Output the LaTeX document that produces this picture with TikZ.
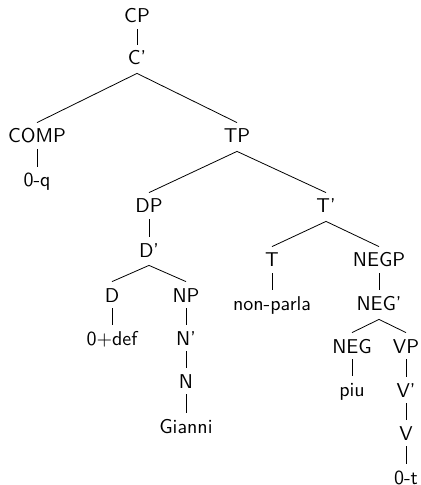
\documentclass[tikz,border=0pt]{standalone}
\usepackage{tikz}

\begin{document}
\begin{tikzpicture}[x=0.5pt, y=-0.5pt, font=\sffamily,
	cat/.style={anchor=base, inner sep=3pt, text height=7pt, text depth=0pt}]
	\useasboundingbox (0,0) rectangle (421,485);
	% categories and words
	\node[cat] (CP) at (137,23) {CP};
	\node[cat] (Cbar) at (137,65) {C'};
	\node[cat] (COMP) at (37,143) {COMP};
	\node[cat] (TP) at (237,143) {TP};
	\node[cat] (Zq) at (37,187) {0-q};
	\node[cat] (DP) at (149,213) {DP};
	\node[cat] (Tbar) at (326,213) {T'};
	\node[cat] (Dbar) at (149,257) {D'};
	\node[cat] (D) at (112,302) {D};
	\node[cat] (NP) at (186,302) {NP};
	\node[cat] (T) at (272,267) {T};
	\node[cat] (NEGP) at (379,267) {NEGP};
	\node[cat] (Zdef) at (112,345) {0+def};
	\node[cat] (Nbar) at (186,345) {N'};
	\node[cat] (nonparla) at (272,310) {non-parla};
	\node[cat] (NEGbar) at (379,310) {NEG'};
	\node[cat] (N) at (186,388) {N};
	\node[cat] (NEG) at (352,353) {NEG};
	\node[cat] (VP) at (406,353) {VP};
	\node[cat] (Gianni) at (186,433) {Gianni};
	\node[cat] (piu) at (352,396) {piu};
	\node[cat] (Vbar) at (406,397) {V'};
	\node[cat] (V) at (406,440) {V};
	\node[cat] (Zt) at (406,484) {0-t};
	% branches
	\draw (CP.south) -- (Cbar.north);
	\draw (COMP.north) -- ([yshift=-1pt]Cbar.south) -- (TP.north);
	\draw (COMP.south) -- (Zq.north);
	\draw (DP.north) -- ([yshift=-1pt]TP.south) -- (Tbar.north);
	\draw (DP.south) -- (Dbar.north);
	\draw (D.north) -- ([yshift=-1pt]Dbar.south) -- (NP.north);
	\draw (D.south) -- (Zdef.north);
	\draw (NP.south) -- (Nbar.north);
	\draw (Nbar.south) -- (N.north);
	\draw (N.south) -- (Gianni.north);
	\draw (T.north) -- ([yshift=-1pt]Tbar.south) -- (NEGP.north);
	\draw (T.south) -- (nonparla.north);
	\draw (NEGP.south) -- (NEGbar.north);
	\draw (NEG.north) -- ([yshift=-1.5pt]NEGbar.south) -- (VP.north);
	\draw (NEG.south) -- (piu.north);
	\draw (VP.south) -- (Vbar.north);
	\draw (Vbar.south) -- (V.north);
	\draw (V.south) -- (Zt.north);
\end{tikzpicture}
\end{document}
